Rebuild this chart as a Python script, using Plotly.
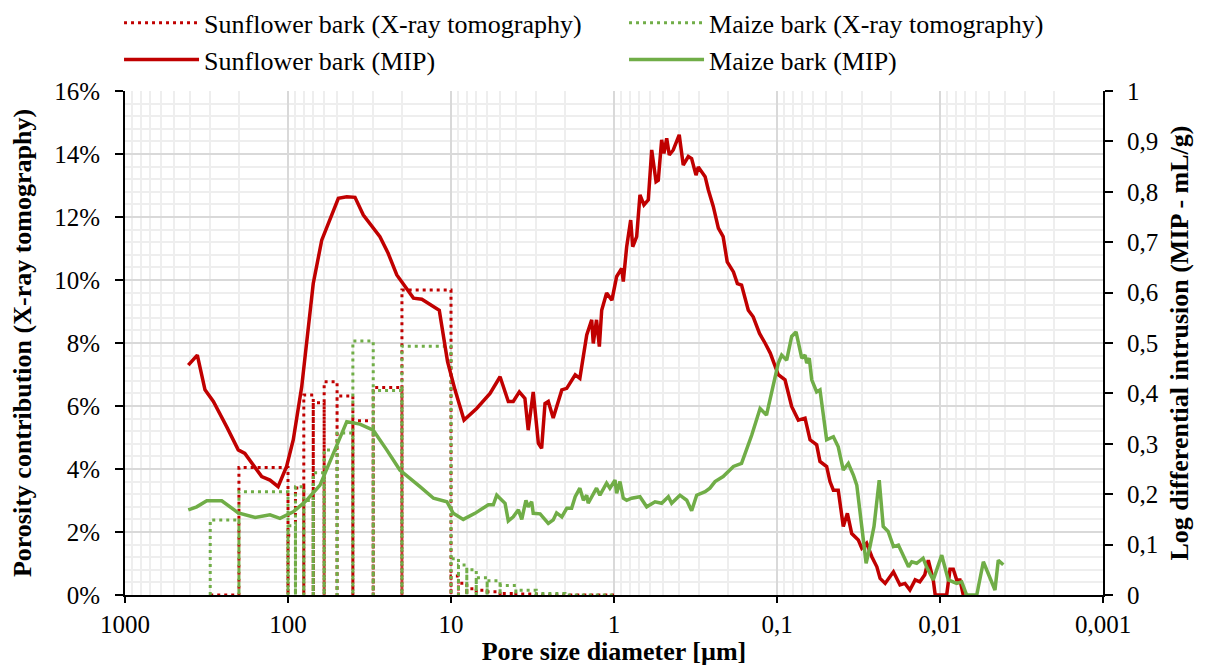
import plotly.graph_objects as go

# ---------------- Data ----------------
# X-ray tomography (porosity contribution, %), histogram bins given by edges (µm)
xray_edges = [300, 200, 100, 90, 80, 70, 60, 50, 40, 30, 20, 10, 9, 8, 7, 6, 5, 4, 3, 2, 1]
sunflower_xray = [0, 4.05, 1.9, 3.4, 6.35, 6.1, 6.77, 6.32, 5.53, 6.59, 9.68,
                  0.6, 0.37, 0.2, 0.15, 0.1, 0.05, 0.03, 0, 0]
maize_xray = [2.38, 3.28, 2.2, 3.44, 3.0, 3.88, 4.6, 5.14, 8.06, 6.49, 7.9,
              1.15, 0.95, 0.8, 0.55, 0.45, 0.3, 0.15, 0.05, 0]

# MIP log differential intrusion (mL/g)
sunflower_mip_d = [409, 360, 323, 287, 238, 202, 184, 145, 129, 115, 102, 92.8, 82.4, 70.0, 62.1,
                   55.3, 49.1, 43.6, 38.8, 34.5, 27.3, 24.3, 21.5, 17.0, 15.1, 11.8, 10.5, 9.45,
                   8.32, 6.96, 5.76, 5.00, 4.45, 4.15, 3.81, 3.52, 3.36, 3.13, 2.91, 2.78, 2.65,
                   2.53, 2.36, 2.09, 1.95, 1.73, 1.62, 1.47, 1.37, 1.34, 1.28, 1.23, 1.19, 1.11,
                   1.03, 0.963, 0.897, 0.877, 0.836, 0.790, 0.768, 0.726, 0.693, 0.655, 0.616,
                   0.587, 0.552, 0.535, 0.510, 0.494, 0.475, 0.458, 0.433, 0.398, 0.376, 0.350,
                   0.334, 0.314, 0.304, 0.276, 0.264, 0.246, 0.229, 0.214, 0.202, 0.185, 0.175,
                   0.165, 0.150, 0.140, 0.128, 0.118, 0.110, 0.0982, 0.0893, 0.0813, 0.0740,
                   0.0673, 0.0627, 0.0571, 0.0545, 0.0496, 0.0473, 0.0451, 0.0421, 0.0392,
                   0.0370, 0.0348, 0.0317, 0.0302, 0.0282, 0.0262, 0.0244, 0.0233, 0.0217,
                   0.0193, 0.0176, 0.0164, 0.0153, 0.0142, 0.0133, 0.0124, 0.0118, 0.0110,
                   0.0107, 0.0091, 0.00868, 0.00829, 0.00790, 0.00754, 0.00720]
sunflower_mip_v = [0.456, 0.476, 0.407, 0.384, 0.334, 0.288, 0.281, 0.235, 0.228, 0.215, 0.255,
                   0.308, 0.413, 0.618, 0.704, 0.744, 0.787, 0.790, 0.789, 0.754, 0.711, 0.678,
                   0.635, 0.589, 0.587, 0.565, 0.463, 0.407, 0.347, 0.370, 0.400, 0.433, 0.384,
                   0.384, 0.403, 0.390, 0.327, 0.403, 0.301, 0.291, 0.380, 0.384, 0.351, 0.407,
                   0.410, 0.437, 0.430, 0.516, 0.546, 0.499, 0.546, 0.493, 0.565, 0.599, 0.585,
                   0.632, 0.648, 0.622, 0.691, 0.744, 0.691, 0.711, 0.794, 0.774, 0.784, 0.883,
                   0.820, 0.823, 0.903, 0.876, 0.906, 0.873, 0.883, 0.913, 0.853, 0.870, 0.866,
                   0.833, 0.849, 0.830, 0.804, 0.771, 0.728, 0.711, 0.661, 0.641, 0.618, 0.615,
                   0.565, 0.552, 0.519, 0.499, 0.480, 0.437, 0.427, 0.374, 0.347, 0.351, 0.308,
                   0.298, 0.265, 0.255, 0.225, 0.208, 0.208, 0.136, 0.162, 0.122, 0.109, 0.093,
                   0.103, 0.076, 0.056, 0.033, 0.023, 0.046, 0.020, 0.023, 0.010, 0.030, 0.026,
                   0.040, 0.069, 0.030, 0.0, 0.0, 0.051, 0.051, 0.030, 0.030, 0.0]

maize_mip_d = [409, 363, 315, 255, 202, 159, 129, 112, 92.8, 76.8, 63.6, 52.7, 43.6, 36.2, 30.0,
               24.8, 20.6, 15.5, 12.8, 10.6, 9.68, 8.41, 7.13, 5.90, 5.50, 5.24, 4.66, 4.45, 4.15,
               3.86, 3.68, 3.47, 3.36, 3.20, 3.13, 2.84, 2.53, 2.36, 2.25, 2.09, 1.95, 1.82, 1.73,
               1.62, 1.54, 1.47, 1.44, 1.28, 1.22, 1.11, 1.06, 0.986, 0.963, 0.919, 0.877, 0.836,
               0.779, 0.693, 0.630, 0.560, 0.510, 0.464, 0.443, 0.394, 0.358, 0.334, 0.311, 0.276,
               0.258, 0.240, 0.214, 0.185, 0.165, 0.143, 0.127, 0.116, 0.105, 0.0982, 0.0936,
               0.0872, 0.0813, 0.0764, 0.0705, 0.0673, 0.0657, 0.0634, 0.0612, 0.0571, 0.0545,
               0.0496, 0.0451, 0.0421, 0.0392, 0.0365, 0.0340, 0.0324, 0.0302, 0.0284, 0.0269,
               0.0254, 0.0236, 0.0223, 0.0208, 0.0193, 0.0180, 0.0164, 0.0156, 0.0149, 0.0139,
               0.0127, 0.0121, 0.0110, 0.00976, 0.00889, 0.00790, 0.00736, 0.00686, 0.00595,
               0.00542, 0.00460, 0.00439, 0.00409]
maize_mip_v = [0.169, 0.175, 0.187, 0.187, 0.163, 0.154, 0.159, 0.152, 0.165, 0.188, 0.218, 0.281,
               0.344, 0.339, 0.327, 0.288, 0.248, 0.215, 0.192, 0.185, 0.162, 0.150, 0.162, 0.179,
               0.179, 0.198, 0.182, 0.147, 0.155, 0.169, 0.150, 0.188, 0.175, 0.185, 0.162, 0.161,
               0.142, 0.149, 0.163, 0.155, 0.172, 0.172, 0.195, 0.212, 0.188, 0.198, 0.182, 0.212,
               0.198, 0.222, 0.212, 0.228, 0.202, 0.225, 0.192, 0.188, 0.192, 0.195, 0.175, 0.185,
               0.182, 0.195, 0.182, 0.198, 0.188, 0.167, 0.198, 0.205, 0.212, 0.225, 0.235, 0.255,
               0.261, 0.317, 0.370, 0.357, 0.420, 0.460, 0.476, 0.466, 0.513, 0.522, 0.470, 0.476,
               0.460, 0.470, 0.427, 0.403, 0.407, 0.308, 0.314, 0.294, 0.248, 0.261, 0.238, 0.218,
               0.136, 0.063, 0.096, 0.136, 0.228, 0.136, 0.126, 0.096, 0.099, 0.073, 0.056, 0.066,
               0.063, 0.073, 0.056, 0.030, 0.079, 0.030, 0.023, 0.026, 0.0, 0.0, 0.066, 0.010,
               0.069, 0.060]

x_tick_vals = [1000, 100, 10, 1, 0.1, 0.01, 0.001]
x_tick_text = ["1000", "100", "10", "1", "0,1", "0,01", "0,001"]
y2_tick_vals = [0, 0.1, 0.2, 0.3, 0.4, 0.5, 0.6, 0.7, 0.8, 0.9, 1.0]
y2_tick_text = ["0", "0,1", "0,2", "0,3", "0,4", "0,5", "0,6", "0,7", "0,8", "0,9", "1"]

RED = "#C00000"
GREEN = "#70AD47"
FONT = "Liberation Serif, Times New Roman, serif"
TICK = 25
TITLE = 26


def bins_to_steps(edges, values):
    xs, ys = [], []
    for i, v in enumerate(values):
        a, b = edges[i], edges[i + 1]
        xs += [a, a, b, b]
        ys += [0, v, v, 0]
    return xs, ys


fig = go.Figure()

sx, sy = bins_to_steps(xray_edges, sunflower_xray)
mx, my = bins_to_steps(xray_edges, maize_xray)

fig.add_trace(go.Scatter(x=sx, y=sy, mode="lines", name="Sunflower bark (X-ray tomography)",
                         line=dict(color=RED, width=3, dash="3px,4px")))
fig.add_trace(go.Scatter(x=mx, y=my, mode="lines", name="Maize bark (X-ray tomography)",
                         line=dict(color=GREEN, width=3, dash="3px,4px")))
fig.add_trace(go.Scatter(x=sunflower_mip_d, y=sunflower_mip_v, mode="lines", yaxis="y2",
                         name="Sunflower bark (MIP)", line=dict(color=RED, width=3.5)))
fig.add_trace(go.Scatter(x=maize_mip_d, y=maize_mip_v, mode="lines", yaxis="y2",
                         name="Maize bark (MIP)", line=dict(color=GREEN, width=3.5)))

minor_x = [k * 10.0 ** e for e in range(-3, 3) for k in range(2, 10)]

fig.update_layout(
    width=1197, height=658,
    margin=dict(l=117, r=102, t=83, b=71, autoexpand=False),
    paper_bgcolor="white", plot_bgcolor="white",
    font=dict(family=FONT, size=TICK, color="black"),
    showlegend=True,
    legend=dict(orientation="h", xref="paper", yref="paper",
                x=-0.0061, y=1.182, xanchor="left", yanchor="top",
                entrywidth=415, entrywidthmode="pixels", traceorder="normal",
                bgcolor="rgba(0,0,0,0)",
                font=dict(family=FONT, size=TITLE), itemwidth=75, tracegroupgap=0),
    xaxis=dict(type="log", range=[3, -3], tickmode="array", tickvals=x_tick_vals,
               ticktext=x_tick_text, showgrid=True, gridcolor="#d9d9d9", gridwidth=1.5,
               minor=dict(tickmode="array", tickvals=minor_x, showgrid=True,
                          gridcolor="#eeeeee", gridwidth=1.5, ticks=""),
               showline=True, linecolor="black", linewidth=2, ticks="outside", ticklen=6,
               tickwidth=2, tickcolor="black", zeroline=False, automargin=False,
               ticklabelstandoff=0, tickfont=dict(size=TICK),
               title=dict(text="<b>Pore size diameter [µm]</b>", standoff=0,
                          font=dict(family=FONT, size=TITLE))),
    yaxis=dict(range=[0, 16], dtick=2, tick0=0, ticksuffix="%", showgrid=True,
               gridcolor="#d9d9d9", gridwidth=1.5,
               minor=dict(dtick=0.4, showgrid=True, gridcolor="#eeeeee", gridwidth=1.5, ticks=""),
               showline=True, linecolor="black", linewidth=2, ticks="outside", ticklen=8,
               tickwidth=2, tickcolor="black", zeroline=False, automargin=False,
               ticklabelstandoff=10, tickfont=dict(size=TICK),
               title=dict(text="<b>Porosity contribution (X-ray tomography)</b>", standoff=21,
                          font=dict(family=FONT, size=TITLE))),
    yaxis2=dict(range=[0, 1], overlaying="y", side="right", tickmode="array",
                tickvals=y2_tick_vals, ticktext=y2_tick_text, showgrid=False,
                showline=True, linecolor="black", linewidth=2, ticks="outside", ticklen=8,
                tickwidth=2, tickcolor="black", zeroline=False, automargin=False,
                ticklabelstandoff=9, tickfont=dict(size=TICK),
                title=dict(text="<b>Log differential intrusion (MIP - mL/g)</b>", standoff=12,
                           font=dict(family=FONT, size=TITLE))),
)

fig.write_html("out.html")
